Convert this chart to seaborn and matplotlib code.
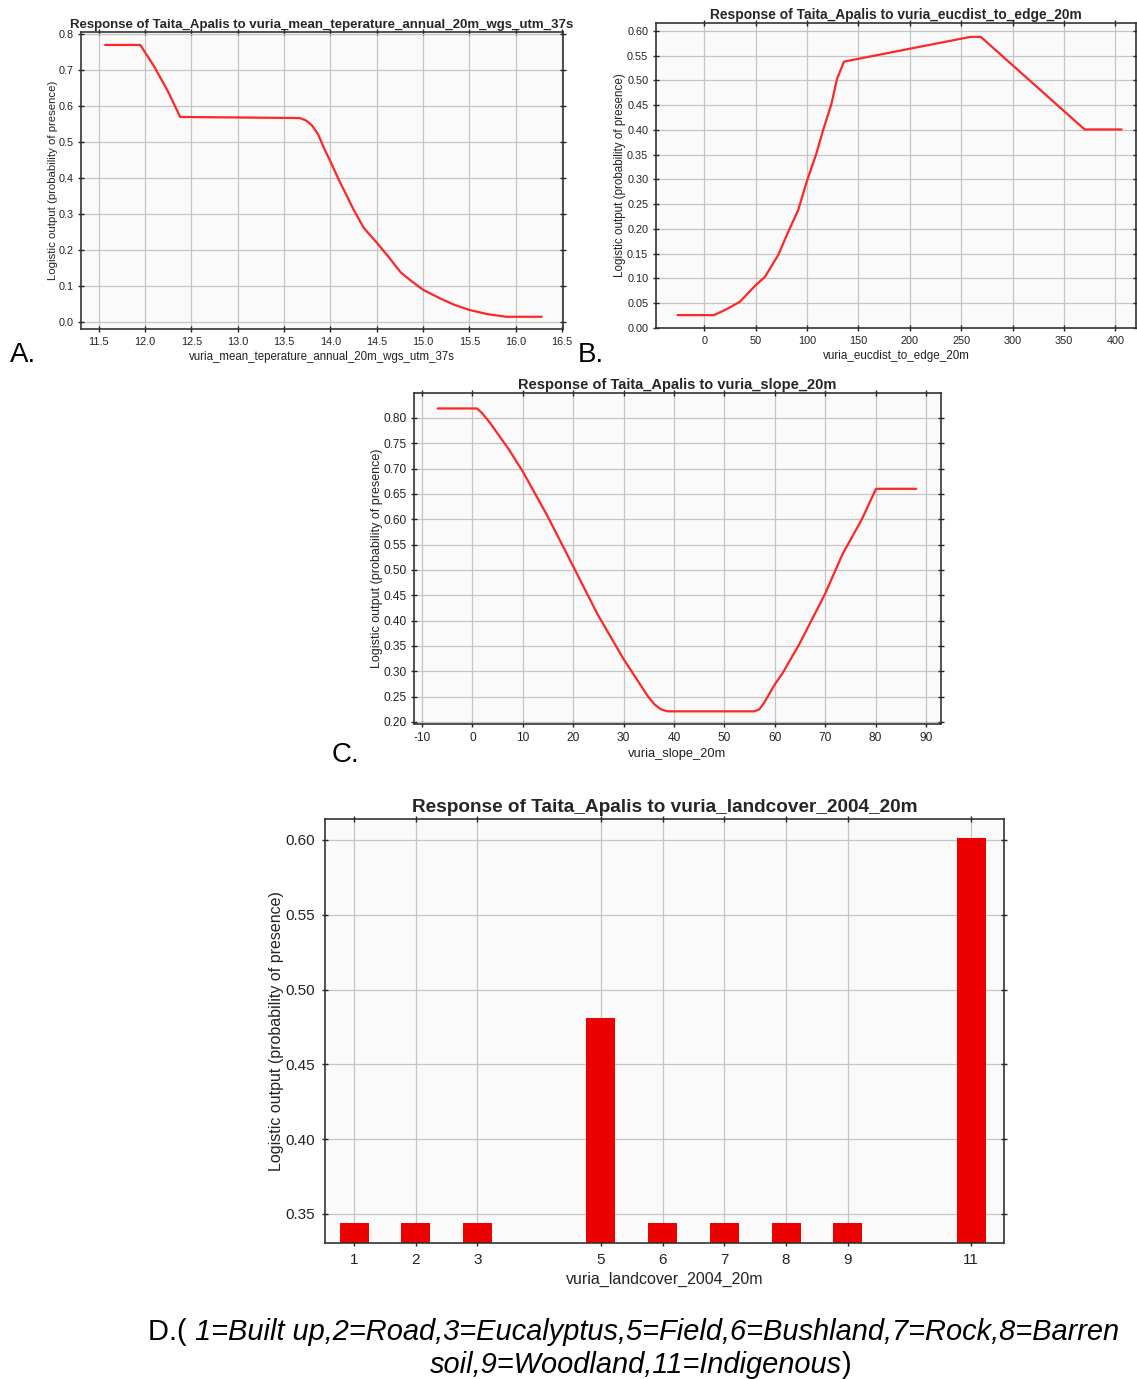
import matplotlib
matplotlib.use('Agg')
import matplotlib.pyplot as plt
import seaborn as sns
from matplotlib.ticker import MultipleLocator, FormatStrFormatter

# A. mean annual temperature response
temp_x = [11.57, 11.95, 12.10, 12.25, 12.38, 13.67, 13.74, 13.80, 13.87, 13.93, 14.00,
          14.09, 14.16, 14.25, 14.36, 14.50, 14.62, 14.76, 14.87, 15.00, 15.20,
          15.34, 15.50, 15.70, 15.90, 16.28]
temp_y = [0.770, 0.770, 0.710, 0.640, 0.570, 0.567, 0.560, 0.547, 0.521, 0.484, 0.447,
          0.396, 0.360, 0.313, 0.262, 0.221, 0.184, 0.138, 0.115, 0.090, 0.064,
          0.048, 0.034, 0.022, 0.015, 0.015]

# B. distance to edge response
edge_x = [-26, 9.4, 21.7, 34.6, 50.2, 58.9, 71.8, 81.6, 91.3, 100, 109, 115.5,
          123.6, 129.1, 135.9, 190, 259, 269, 370, 406]
edge_y = [0.026, 0.026, 0.038, 0.053, 0.087, 0.103, 0.147, 0.194, 0.238, 0.298, 0.352, 0.399,
          0.452, 0.503, 0.538, 0.560, 0.588, 0.588, 0.401, 0.401]

# C. slope response
slope_x = [-6.9, 0.86, 1.86, 3.5, 7.2, 10.0, 14.8, 20.0, 24.8, 30.0, 34.8, 36.1, 37.4,
           38.7, 55.96, 56.95, 57.9, 60.0, 61.6, 64.9, 70.0, 73.5, 77.2, 80.1, 88.1]
slope_y = [0.8185, 0.8185, 0.810, 0.790, 0.738, 0.694, 0.608, 0.507, 0.413, 0.324, 0.251,
           0.235, 0.225, 0.221, 0.221, 0.225, 0.238, 0.274, 0.297, 0.354, 0.453, 0.532,
           0.598, 0.660, 0.660]

# D. landcover response
lc_codes = [1, 2, 3, 5, 6, 7, 8, 9, 11]
lc_vals = [0.344, 0.344, 0.344, 0.481, 0.344, 0.344, 0.344, 0.344, 0.601]

YLAB = 'Logistic output (probability of presence)'
TITLE = 'Response of Taita_Apalis to '
LINE_RED = '#ff2626'
TXT = '#222222'

sns.set_theme(style='whitegrid')
plt.rcParams['font.family'] = ['Liberation Sans', 'DejaVu Sans']
plt.rcParams['axes.unicode_minus'] = False

W, H = 1137, 1379
fig = plt.figure(figsize=(W / 100, H / 100), dpi=100, facecolor='white')


def px_axes(left, top, right, bottom):
    return fig.add_axes([left / W, 1 - bottom / H, (right - left) / W, (bottom - top) / H])


def style(ax, fs):
    ax.set_facecolor('#fafafa')
    ax.grid(True, color='#c4c4c4', linewidth=0.9)
    for s in ax.spines.values():
        s.set_visible(True)
        s.set_color('#333333')
        s.set_linewidth(1.2)
    ax.tick_params(direction='inout', length=5, width=1, color=TXT,
                   top=True, right=True, bottom=True, left=True,
                   labeltop=False, labelright=False,
                   labelsize=fs, labelcolor=TXT, pad=3)


# ---- A
axA = px_axes(81, 32, 563, 329)
sns.lineplot(x=temp_x, y=temp_y, ax=axA, color=LINE_RED, linewidth=1.6)
axA.set_xlim(11.31, 16.51)
axA.set_ylim(-0.019, 0.806)
axA.xaxis.set_major_locator(MultipleLocator(0.5))
axA.yaxis.set_major_locator(MultipleLocator(0.1))
axA.xaxis.set_major_formatter(FormatStrFormatter('%.1f'))
axA.yaxis.set_major_formatter(FormatStrFormatter('%.1f'))
style(axA, 7.8)
axA.set_title(TITLE + 'vuria_mean_teperature_annual_20m_wgs_utm_37s',
              fontsize=9.5, fontweight='bold', pad=3)
axA.set_xlabel('vuria_mean_teperature_annual_20m_wgs_utm_37s', fontsize=8.3, labelpad=3, color=TXT)
axA.set_ylabel(YLAB, fontsize=8.2, labelpad=0, color=TXT)

# ---- B
axB = px_axes(656, 23, 1136, 328)
sns.lineplot(x=edge_x, y=edge_y, ax=axB, color=LINE_RED, linewidth=1.6)
axB.set_xlim(-47, 420)
axB.set_ylim(0.0, 0.616)
axB.xaxis.set_major_locator(MultipleLocator(50))
axB.yaxis.set_major_locator(MultipleLocator(0.05))
axB.yaxis.set_major_formatter(FormatStrFormatter('%.2f'))
style(axB, 7.8)
axB.set_title(TITLE + 'vuria_eucdist_to_edge_20m', fontsize=9.9, fontweight='bold', pad=3)
axB.set_xlabel('vuria_eucdist_to_edge_20m', fontsize=8.4, labelpad=3, color=TXT)
axB.set_ylabel(YLAB, fontsize=8.4, labelpad=1, color=TXT)

# ---- C
axC = px_axes(414, 393, 941, 724)
sns.lineplot(x=slope_x, y=slope_y, ax=axC, color=LINE_RED, linewidth=1.6)
axC.set_xlim(-11.6, 93)
axC.set_ylim(0.196, 0.849)
axC.xaxis.set_major_locator(MultipleLocator(10))
axC.yaxis.set_major_locator(MultipleLocator(0.05))
axC.yaxis.set_major_formatter(FormatStrFormatter('%.2f'))
style(axC, 8.6)
axC.set_title(TITLE + 'vuria_slope_20m', fontsize=10.5, fontweight='bold', pad=3)
axC.set_xlabel('vuria_slope_20m', fontsize=9.3, labelpad=3, color=TXT)
axC.set_ylabel(YLAB, fontsize=9, labelpad=0, color=TXT)

# ---- D
axD = px_axes(325, 819, 1004, 1243)
sns.barplot(x=lc_codes, y=lc_vals, ax=axD, native_scale=True, color='#ee0000',
            saturation=1, width=0.47, linewidth=0)
axD.set_xlim(0.53, 11.53)
axD.set_ylim(0.3306, 0.614)
axD.set_xticks(lc_codes)
axD.set_xticklabels([str(c) for c in lc_codes])
axD.yaxis.set_major_locator(MultipleLocator(0.05))
axD.yaxis.set_major_formatter(FormatStrFormatter('%.2f'))
axD.set_axisbelow(True)
style(axD, 11)
axD.tick_params(axis='both', pad=5)
axD.set_title(TITLE + 'vuria_landcover_2004_20m', fontsize=13.7, fontweight='bold', pad=5)
axD.set_xlabel('vuria_landcover_2004_20m', fontsize=11.5, labelpad=3, color=TXT)
axD.set_ylabel(YLAB, fontsize=11.5, labelpad=1, color=TXT)

# ---- panel letters
fig.text(10 / W, 1 - 355 / H, 'A.', fontsize=20, va='center', ha='left', color='black')
fig.text(578 / W, 1 - 355 / H, 'B.', fontsize=20, va='center', ha='left', color='black')
fig.text(332 / W, 1 - 755 / H, 'C.', fontsize=20, va='center', ha='left', color='black')

# ---- caption for D
CAP = 20.9
t1 = fig.text(148 / W, 1 - 1332 / H, 'D.( ', fontsize=CAP, va='center', ha='left', color='black')
fig.add_artist(plt.Annotation('1=Built up,2=Road,3=Eucalyptus,5=Field,6=Bushland,7=Rock,8=Barren',
                              xy=(1, 0), xycoords=t1, va='bottom', ha='left',
                              fontsize=CAP, fontstyle='italic', color='black'))
t2 = fig.text(636 / W, 1 - 1365 / H, 'soil,9=Woodland,11=Indigenous', fontsize=CAP,
              fontstyle='italic', va='center', ha='center', color='black')
fig.add_artist(plt.Annotation(')', xy=(1, 0), xycoords=t2, va='bottom', ha='left',
                              fontsize=CAP, color='black'))

fig.savefig('out.png', dpi=100, facecolor='white')
